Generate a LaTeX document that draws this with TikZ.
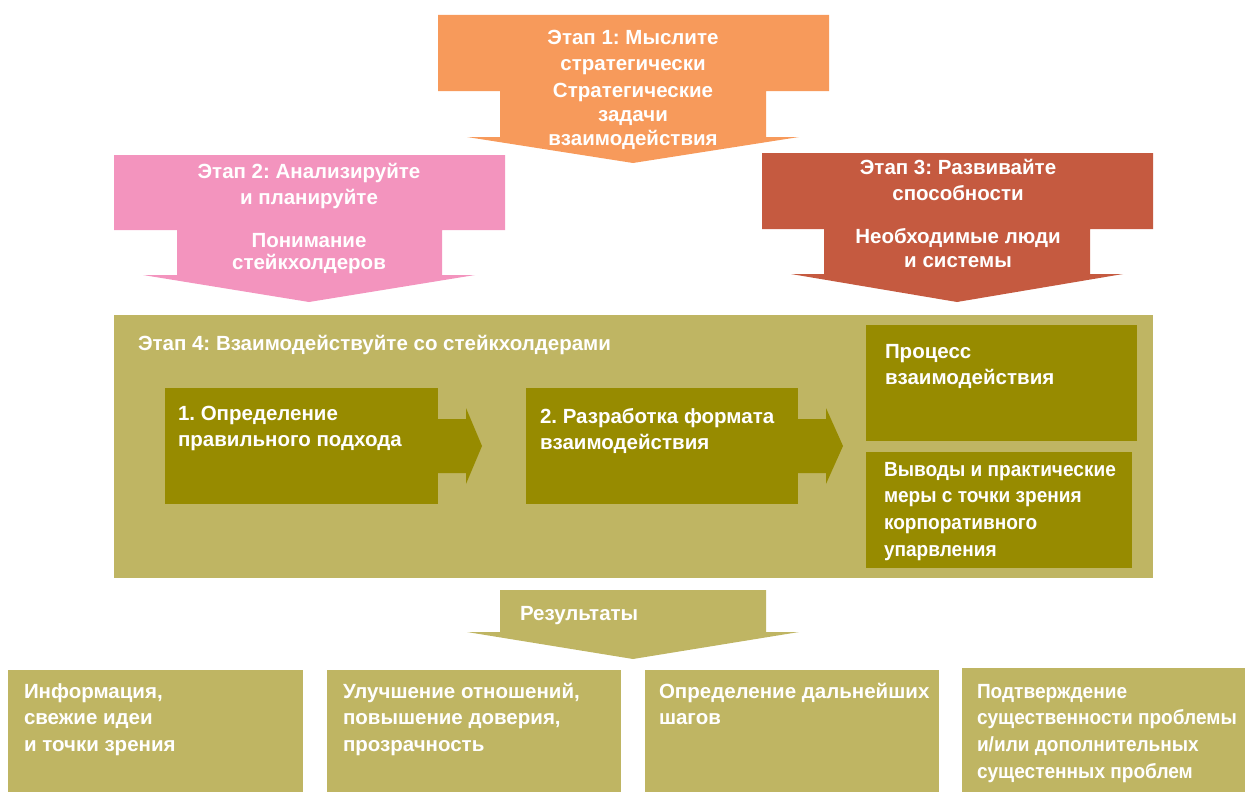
\documentclass[tikz,border=0pt]{standalone}
\usepackage{fontspec}
\setmainfont{Liberation Sans}
\newfontfamily\narrowf[FakeStretch=0.93]{Liberation Sans}
\usetikzlibrary{calc}
\definecolor{orangeS}{HTML}{F79A5B}
\definecolor{pinkS}{HTML}{F394BE}
\definecolor{rustS}{HTML}{C55A40}
\definecolor{oliveL}{HTML}{BFB563}
\definecolor{oliveD}{HTML}{978B00}
\newcommand\fl{\rule{0pt}{17pt}}
\newcommand\fsz[1]{\frenchspacing\bfseries\fontsize{20.5}{#1}\selectfont}
\begin{document}
\begin{tikzpicture}[x=1pt,y=-1pt,
  box/.style={anchor=north west, inner sep=0pt, outer sep=0pt, draw=none},
  txt/.style={inner sep=0pt, outer sep=0pt, text=white, font=\fsz{26.5}, align=left},
  ctxt/.style={txt, align=center, anchor=north},
  flow/.style={fill=oliveD}
]
\useasboundingbox (0,0) rectangle (1245,792);

% Stage arrows (drawn shapes)
\fill[orangeS] (438,15) -- (829,15) -- (829,91) -- (766,91) -- (766,137) -- (799,137)
  -- (633,163) -- (467,137) -- (500,137) -- (500,91) -- (438,91) -- cycle;
\fill[pinkS] (114,155) -- (505,155) -- (505,230) -- (442,230) -- (442,275) -- (475,275)
  -- (309,302) -- (143,275) -- (177,275) -- (177,230) -- (114,230) -- cycle;
\fill[rustS] (762,153) -- (1153,153) -- (1153,229) -- (1090,229) -- (1090,274) -- (1123,274)
  -- (957,302) -- (791,274) -- (824,274) -- (824,229) -- (762,229) -- cycle;

\node[ctxt] (s1t) at (633,27) {\fl Этап 1: Мыслите\\стратегически};
\node[ctxt, font=\fsz{24}] (s1s) at (633,80) {\fl Стратегические\\задачи\\взаимодействия};
\node[ctxt] (s2t) at (309,161) {\fl Этап 2: Анализируйте\\и планируйте};
\node[ctxt, font=\fsz{22.5}] (s2s) at (309,230) {\fl Понимание\\стейкхолдеров};
\node[ctxt, font=\fsz{26}] (s3t) at (958,157) {\fl Этап 3: Развивайте\\способности};
\node[ctxt, font=\fsz{24.5}] (s3s) at (958,226) {\fl Необходимые люди\\и системы};

% Stage 4 container
\node[box, fill=oliveL, minimum width=1039pt, minimum height=263pt] (s4) at (114,315) {};
\node[txt, anchor=base west] (s4t) at (138,350) {Этап 4: Взаимодействуйте со стейкхолдерами};

\node[box, fill=oliveD, minimum width=273pt, minimum height=116pt] (b1) at (165,388) {};
\node[box, fill=oliveD, minimum width=272pt, minimum height=116pt] (b2) at (526,388) {};
\node[box, fill=oliveD, minimum width=271pt, minimum height=116pt] (b3) at (866,325) {};
\node[box, fill=oliveD, minimum width=266pt, minimum height=116pt] (b4) at (866,452) {};

\node[txt, anchor=north west] (b1t) at (178,403) {\fl 1. Определение\\правильного подхода};
\node[txt, anchor=north west] (b2t) at (540,406) {\fl 2. Разработка формата\\взаимодействия};
\node[txt, anchor=north west] (b3t) at (885,341) {\fl Процесс\\взаимодействия};
\node[txt, anchor=north west, font=\fsz{26.7}\narrowf] (b4t) at (884,459) {\fl Выводы и практические\\меры с точки зрения\\корпоративного\\упарвления};

% flow arrows
\fill[flow] ($(b1.east)+(0,-27)$) -- ++(28,0) -- ++(0,-11) -- ($(b1.east)+(44,0)$)
  -- ($(b1.east)+(28,38)$) -- ++(0,-11) -- ($(b1.east)+(0,27)$) -- cycle;
\fill[flow] ($(b2.east)+(0,-27)$) -- ++(28,0) -- ++(0,-11) -- ($(b2.east)+(45,0)$)
  -- ($(b2.east)+(28,38)$) -- ++(0,-11) -- ($(b2.east)+(0,27)$) -- cycle;

% Results arrow
\fill[oliveL] (500,590) -- (766,590) -- (766,632) -- (799,632) -- (633,659) -- (467,632)
  -- (500,632) -- cycle;
\node[txt, anchor=base west] (rt) at (520,620) {Результаты};

% Result boxes
\node[box, fill=oliveL, minimum width=295pt, minimum height=130pt] (r1) at (8,670) {};
\node[box, fill=oliveL, minimum width=294pt, minimum height=130pt] (r2) at (327,670) {};
\node[box, fill=oliveL, minimum width=294pt, minimum height=130pt] (r3) at (645,670) {};
\node[box, fill=oliveL, minimum width=290pt, minimum height=130pt] (r4) at (962,668) {};

\node[txt, anchor=north west] (r1t) at (24,681) {\fl Информация,\\свежие идеи\\и точки зрения};
\node[txt, anchor=north west] (r2t) at (343,681) {\fl Улучшение отношений,\\повышение доверия,\\прозрачность};
\node[txt, anchor=north west] (r3t) at (659,681) {\fl Определение дальнейших\\шагов};
\node[txt, anchor=north west, font=\fsz{26.8}\narrowf] (r4t) at (977,681) {\fl Подтверждение\\существенности проблемы\\и/или дополнительных\\сущестенных проблем};
\end{tikzpicture}
\end{document}
